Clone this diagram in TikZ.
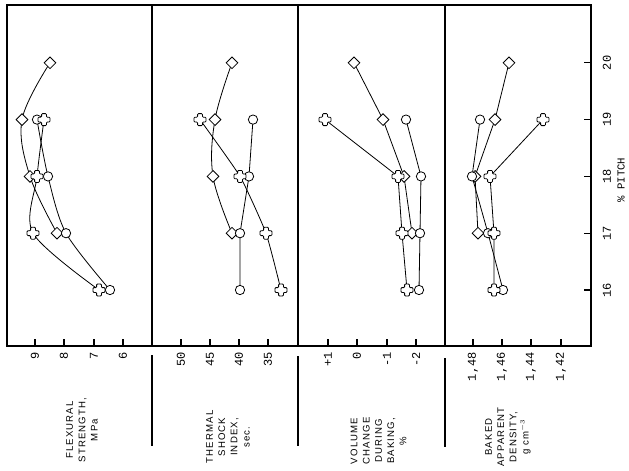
\documentclass[tikz,border=0pt]{standalone}
\usepackage{fontspec}
\setmainfont{Liberation Sans}
\newfontfamily\monofnt{Liberation Mono}
\newfontfamily\labfnt[LetterSpace=12]{Liberation Sans}
\usetikzlibrary{shapes.geometric,backgrounds}
\begin{document}
\begin{tikzpicture}[x=0.75pt,y=-0.75pt,
  frameline/.style={line width=0.8pt},
  dataline/.style={line width=0.6pt},
  dmark/.style={diamond, draw, fill=white, line width=0.6pt, minimum width=9pt, minimum height=9pt, inner sep=0pt},
  omark/.style={circle, draw, fill=white, line width=0.6pt, minimum size=7pt, inner sep=0pt},
  xmark/.style={rectangle, inner sep=0pt, minimum size=10.4pt,
    path picture={\draw[line width=0.6pt, fill=white, rounded corners=0.7pt,
      shift={(path picture bounding box.center)}]
      (1.8pt,4.5pt) -- (1.8pt,1.8pt) -- (4.5pt,1.8pt) -- (4.5pt,-1.8pt) -- (1.8pt,-1.8pt) -- (1.8pt,-4.5pt)
      -- (-1.8pt,-4.5pt) -- (-1.8pt,-1.8pt) -- (-4.5pt,-1.8pt) -- (-4.5pt,1.8pt) -- (-1.8pt,1.8pt) -- (-1.8pt,4.5pt) -- cycle;}},
  ticklab/.style={rotate=90, font=\monofnt\fontsize{9}{10}\selectfont, inner sep=0pt},
  axlab/.style={rotate=90, align=center, font=\labfnt\fontsize{7.2}{9.2}\selectfont, inner sep=0pt}
]
\useasboundingbox (0,0) rectangle (629,471);

% frame and panels
\draw[frameline] (7,5) rectangle (591,346);
\foreach \sx in {152,298,445} \draw[frameline] (\sx,5) -- (\sx,346);
\draw[frameline] (152,355) -- (152,446);
\draw[frameline] (298,356) -- (298,446);
\draw[frameline] (445,358) -- (445,447);

% bottom ticks and labels
\foreach \tx/\tl [count=\i] in {35/9,64/8,94/7,123/6,181/50,210/45,239/40,268/35,328/+1,357/0,387/-1,416/-2,473/{1,48},502/{1,46},531/{1,44},561/{1,42}}{
  \draw[frameline] (\tx,346) -- (\tx,339);
  \node[ticklab, anchor=east] (bt\i) at (\tx,352) {\tl};
}

% right ticks and labels
\foreach \ty/\tl [count=\i] in {290/16,233.2/17,176.4/18,119.6/19,62.8/20}{
  \draw[frameline] (584,\ty) -- (591,\ty);
  \node[ticklab] (rt\i) at (607,\ty) {\tl};
}
\node[rotate=90, font=\monofnt\fontsize{8}{9}\selectfont, inner sep=0pt] (pitch) at (621,180) {\% PITCH};

% axis titles
\node[axlab] (lab1) at (82,430) {FLEXURAL\\STRENGTH,\\MPa};
\node[axlab] (lab2) at (228,437) {THERMAL\\SHOCK\\INDEX,\\sec.};
\node[axlab] (lab3) at (378.5,441) {VOLUME\\CHANGE\\DURING\\BAKING,\\\%};
\node[axlab] (lab4) at (508,437) {BAKED\\APPARENT\\DENSITY,\\g cm$^{-3}$};

% ---------- markers ----------
% panel 1
\node[dmark] (ad20) at (50,62.8) {};
\node[dmark] (ad19) at (22,119.6) {};
\node[dmark] (ad18) at (30,176.4) {};
\node[dmark] (ad17) at (57,233.2) {};
\node[omark] (ac19) at (37,119.6) {};
\node[omark] (ac18) at (48,176.4) {};
\node[omark] (ac17) at (66,233.2) {};
\node[omark] (ac16) at (110,290) {};
\node[xmark] (ax19) at (44,119.6) {};
\node[xmark] (ax18) at (37,176.4) {};
\node[xmark] (ax17) at (33,233.2) {};
\node[xmark] (ax16) at (99,290) {};
% panel 2
\node[dmark] (bd20) at (232,62.8) {};
\node[dmark] (bd19) at (215,119.6) {};
\node[dmark] (bd18) at (213,176.4) {};
\node[dmark] (bd17) at (232,233.2) {};
\node[omark] (bc19) at (253,119.6) {};
\node[omark] (bc18) at (249,176.4) {};
\node[omark] (bc17) at (240,233.2) {};
\node[omark] (bc16) at (240,290) {};
\node[xmark] (bx19) at (200,119.6) {};
\node[xmark] (bx18) at (240,176.4) {};
\node[xmark] (bx17) at (266,233.2) {};
\node[xmark] (bx16) at (281,290) {};
% panel 3
\node[dmark] (cd20) at (354,62.8) {};
\node[dmark] (cd19) at (383,119.6) {};
\node[dmark] (cd18) at (404,176.4) {};
\node[dmark] (cd17) at (412,233.2) {};
\node[omark] (cc19) at (406,119.6) {};
\node[omark] (cc18) at (421,176.4) {};
\node[omark] (cc17) at (420,233.2) {};
\node[omark] (cc16) at (419,290) {};
\node[xmark] (cx19) at (325,119.6) {};
\node[xmark] (cx18) at (398,176.4) {};
\node[xmark] (cx17) at (402,233.2) {};
\node[xmark] (cx16) at (407,290) {};
% panel 4
\node[dmark] (dd20) at (509,62.8) {};
\node[dmark] (dd19) at (495,119.6) {};
\node[dmark] (dd18) at (475,176.4) {};
\node[dmark] (dd17) at (478,233.2) {};
\node[omark] (dc19) at (480,119.6) {};
\node[omark] (dc18) at (472,176.4) {};
\node[omark] (dc17) at (488,233.2) {};
\node[omark] (dc16) at (503,290) {};
\node[xmark] (dx19) at (543,119.6) {};
\node[xmark] (dx18) at (490,176.4) {};
\node[xmark] (dx17) at (494,233.2) {};
\node[xmark] (dx16) at (494,290) {};

% ---------- curves (behind markers) ----------
\begin{pgfonlayer}{background}
\fill[white] (0,0) rectangle (629,471);
% panel 1
\draw[dataline] plot[smooth, tension=0.6] coordinates {(ad20.center) (ad19.center) (ad18.center) (ad17.center)};
\draw[dataline] plot[smooth, tension=0.5] coordinates {(ac19.center) (ac18.center) (ac17.center) (ac16.center)};
\draw[dataline] plot[smooth, tension=0.5] coordinates {(ax19.center) (ax18.center) (ax17.center) (ax16.center)};
% panel 2
\draw[dataline] plot[smooth, tension=0.6] coordinates {(bd20.center) (bd19.center) (bd18.center) (bd17.center)};
\draw[dataline] (bc19.center) -- (bc18.center) -- (bc17.center) -- (bc16.center);
\draw[dataline] plot[smooth, tension=0.3] coordinates {(bx19.center) (bx18.center) (bx17.center) (bx16.center)};
% panel 3
\draw[dataline] (cd20.center) -- (cd19.center) -- (cd18.center) -- (cd17.center);
\draw[dataline] (cc19.center) -- (cc18.center) -- (cc17.center) -- (cc16.center);
\draw[dataline] (cx19.center) -- (cx18.center) -- (cx17.center) -- (cx16.center);
% panel 4
\draw[dataline] (dd20.center) -- (dd19.center) -- (dd18.center) -- (dd17.center);
\draw[dataline] (dc19.center) -- (dc18.center) -- (dc17.center) -- (dc16.center);
\draw[dataline] (dx19.center) -- (dx18.center) -- (dx17.center) -- (dx16.center);
\end{pgfonlayer}
\end{tikzpicture}
\end{document}
